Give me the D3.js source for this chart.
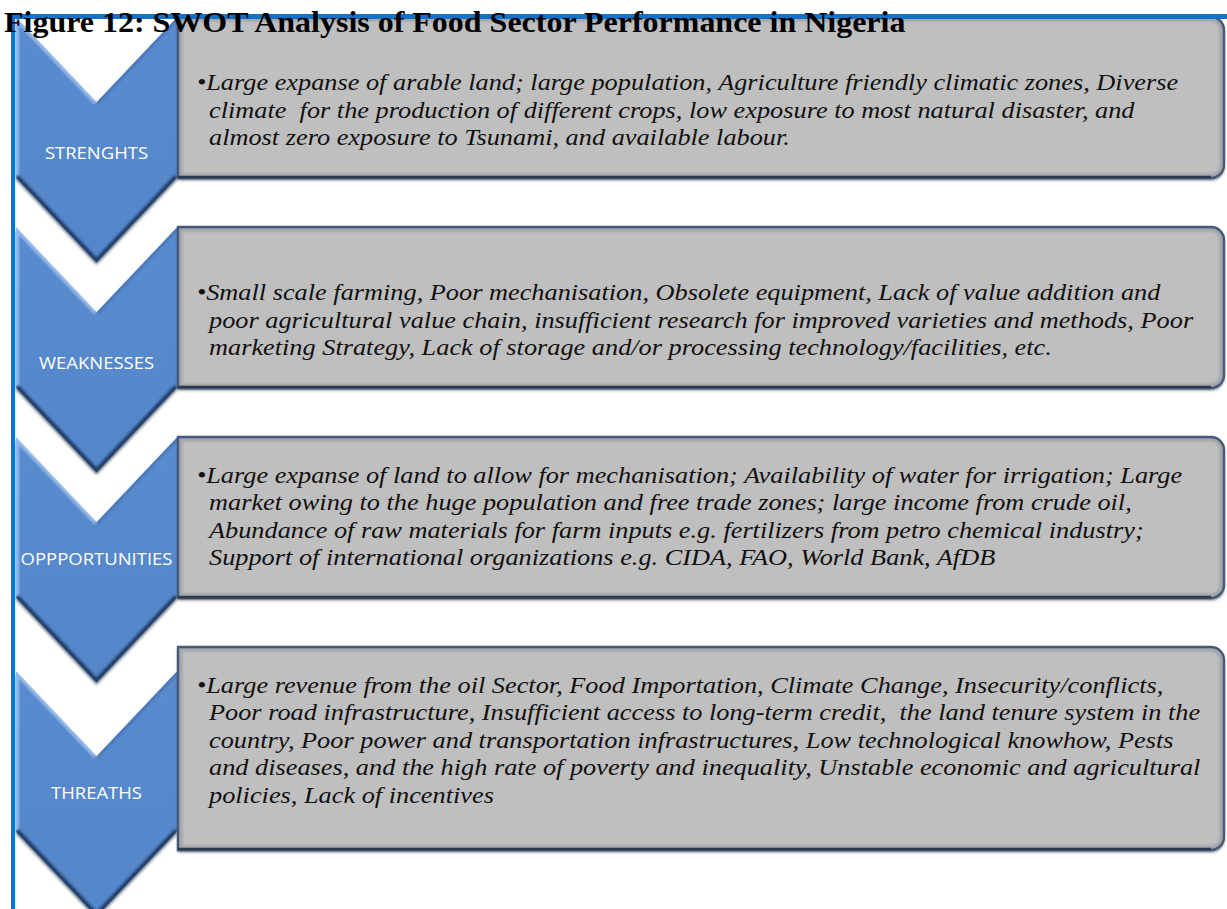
<!DOCTYPE html>
<html>
<head>
<meta charset="utf-8">
<script src="https://cdn.jsdelivr.net/npm/d3@7"></script>
<style>
  body { margin: 0; background: #fff; }
  text { white-space: pre; }
</style>
</head>
<body>
<div id="canvas"></div>
<script>
const w = 1227, h = 909;

const titleText = "Figure 12: SWOT Analysis of Food Sector Performance in Nigeria";
const categories = ["STRENGHTS", "WEAKNESSES", "OPPPORTUNITIES", "THREATHS"];

// first empty string = the blank paragraph at the top of the box
const strengthLines = [
    "",
    "•Large expanse of arable land; large population, Agriculture friendly climatic zones, Diverse",
    "climate  for the production of different crops, low exposure to most natural disaster, and",
    "almost zero exposure to Tsunami, and available labour."
];
const weaknessLines = [
    "",
    "•Small scale farming, Poor mechanisation, Obsolete equipment, Lack of value addition and",
    "poor agricultural value chain, insufficient research for improved varieties and methods, Poor",
    "marketing Strategy, Lack of storage and/or processing technology/facilities, etc."
];
const opportunityLines = [
    "•Large expanse of land to allow for mechanisation; Availability of water for irrigation; Large",
    "market owing to the huge population and free trade zones; large income from crude oil,",
    "Abundance of raw materials for farm inputs e.g. fertilizers from petro chemical industry;",
    "Support of international organizations e.g. CIDA, FAO, World Bank, AfDB"
];
const threatLines = [
    "•Large revenue from the oil Sector, Food Importation, Climate Change, Insecurity/conflicts,",
    "Poor road infrastructure, Insufficient access to long-term credit,  the land tenure system in the",
    "country, Poor power and transportation infrastructures, Low technological knowhow, Pests",
    "and diseases, and the high rate of poverty and inequality, Unstable economic and agricultural",
    "policies, Lack of incentives"
];
const boxLines = [strengthLines, weaknessLines, opportunityLines, threatLines];

let svg = d3.select("#canvas")
            .append("svg")
                .attr("width", w)
                .attr("height", h)
                .attr("viewBox", [0, 0, w, h]);

// layout (the original figure is stretched horizontally, so text gets sx)
const sx = 1.17;
const chevL = 16, chevR = 177, chevH = 160, chevDepth = 85;
const boxL = 178, boxR = 1224, radius = 13;
const lineH = 27.6, gap = 49;
const boxH = (n) => n <= 4 ? 161 : 161 + (n - 4) * 42;

let rows = [];
let yPos = 17;
categories.forEach((c, i) => {
    let bh = boxH(boxLines[i].length);
    rows.push({ label: c, lines: boxLines[i], top: yPos, height: bh, i: i });
    yPos += bh + gap;
});

const mid = (chevL + chevR) / 2;

let defs = svg.append("defs");
let shadow = defs.append("filter").attr("id", "shadow")
    .attr("x", "-5%").attr("y", "-5%").attr("width", "110%").attr("height", "115%");
shadow.append("feDropShadow")
    .attr("dx", 0).attr("dy", 2).attr("stdDeviation", 1.6)
    .attr("flood-color", "#1b2738").attr("flood-opacity", 0.75);
defs.append("filter").attr("id", "soft")
    .append("feGaussianBlur").attr("stdDeviation", 1.3);

let grad = defs.append("linearGradient").attr("id", "chevFill")
    .attr("x1", 0).attr("y1", 0).attr("x2", 0).attr("y2", 1);
grad.append("stop").attr("offset", 0).attr("stop-color", "#5a8bcf");
grad.append("stop").attr("offset", 1).attr("stop-color", "#5586c9");

function chevPath(t) {
    return d3.line()([
        [chevL, t], [mid, t + chevDepth], [chevR, t],
        [chevR, t + chevH], [mid, t + chevH + chevDepth], [chevL, t + chevH]
    ]) + "Z";
}

function boxPath(t, bh) {
    let b = t + bh;
    return `M${boxL},${t}H${boxR - radius}A${radius},${radius} 0 0 1 ${boxR},${t + radius}` +
           `V${b - radius}A${radius},${radius} 0 0 1 ${boxR - radius},${b}H${boxL}Z`;
}

// chevrons
let chev = svg.selectAll("g.chev")
    .data(rows)
    .enter().append("g")
        .attr("class", "chev");

chev.each(function(d) {
    let g = d3.select(this);
    let ct = d.top + d.height / 2 - chevH / 2 + (d.height > 161 ? 3 : 0);
    d.chevTop = ct;
    let p = chevPath(ct);
    defs.append("clipPath").attr("id", "chevClip" + d.i)
        .append("path").attr("d", p);
    g.append("path").attr("d", p)
        .attr("fill", "url(#chevFill)")
        .attr("filter", "url(#shadow)");
    let inner = g.append("g").attr("clip-path", "url(#chevClip" + d.i + ")");
    // light bevel on upper-left and right edges
    inner.append("path")
        .attr("d", d3.line()([[chevL, ct + chevH], [chevL, ct], [mid, ct + chevDepth]]))
        .attr("fill", "none").attr("stroke", "#a8cbf4").attr("stroke-width", 6)
        .attr("opacity", 0.75).attr("filter", "url(#soft)");
    inner.append("path")
        .attr("d", d3.line()([[chevR, ct], [chevR, ct + chevH]]))
        .attr("fill", "none").attr("stroke", "#9cc4f4").attr("stroke-width", 6)
        .attr("opacity", 0.8).attr("filter", "url(#soft)");
    inner.append("path")
        .attr("d", d3.line()([[mid, ct + chevDepth], [chevR, ct]]))
        .attr("fill", "none").attr("stroke", "#3f6aa6").attr("stroke-width", 5)
        .attr("opacity", 0.6).attr("filter", "url(#soft)");
    // dark bevel on lower edges
    inner.append("path")
        .attr("d", d3.line()([[chevL, ct + chevH], [mid, ct + chevH + chevDepth], [chevR, ct + chevH]]))
        .attr("fill", "none").attr("stroke", "#1d3961").attr("stroke-width", 7)
        .attr("opacity", 0.9).attr("filter", "url(#soft)");
});

// label sits lower when the box starts with a blank paragraph
chev.append("text")
    .attr("transform", (d) => `translate(${mid},${d.chevTop + (d.lines[0] === "" ? 141 : 127)}) scale(1.12,1)`)
    .attr("text-anchor", "middle")
    .attr("font-family", "'Open Sans', 'Noto Sans', sans-serif")
    .attr("font-size", 16.5)
    .attr("fill", "#ffffff")
    .text((d) => d.label);

// text boxes
let box = svg.selectAll("g.box")
    .data(rows)
    .enter().append("g")
        .attr("class", "box");

box.each(function(d) {
    let g = d3.select(this);
    let p = boxPath(d.top, d.height);
    defs.append("clipPath").attr("id", "boxClip" + d.i)
        .append("path").attr("d", p);
    g.append("path").attr("d", p)
        .attr("fill", "#bfbfbf")
        .attr("filter", "url(#shadow)");
    g.append("g").attr("clip-path", "url(#boxClip" + d.i + ")")
        .append("path").attr("d", p)
        .attr("fill", "none").attr("stroke", "#7f8690").attr("stroke-width", 9)
        .attr("opacity", 0.45).attr("filter", "url(#soft)");
    g.append("path").attr("d", p)
        .attr("fill", "none").attr("stroke", "#45597a").attr("stroke-width", 2.4);
    // darker lower rim
    g.append("path")
        .attr("d", d3.line()([[boxL, d.top + d.height - 1], [boxR - radius, d.top + d.height - 1]]))
        .attr("stroke", "#2c3a4e").attr("stroke-width", 2.5);
});

box.selectAll("text")
    .data((d) => d.lines.map((s, j) => ({ s: s, y: d.top + 45.5 + j * lineH })))
    .enter().append("text")
        .attr("transform", (d) => `translate(${d.s.startsWith("•") ? 197 : 209},${d.y}) scale(${sx},1)`)
        .attr("font-family", "'Liberation Serif', 'Times New Roman', serif")
        .attr("font-style", "italic")
        .attr("font-size", 22.5)
        .attr("fill", "#111")
        .text((d) => d.s);

// frame
svg.append("rect").attr("x", 11).attr("y", 14).attr("width", w - 11).attr("height", 5).attr("fill", "#1571c5");
svg.append("rect").attr("x", 11).attr("y", 14).attr("width", 4).attr("height", h - 14).attr("fill", "#1571c5");

// title
svg.append("text")
    .attr("transform", "translate(4,32) scale(1.066,1)")
    .attr("font-family", "'Liberation Serif', 'Times New Roman', serif")
    .attr("font-weight", "bold")
    .attr("font-size", 30)
    .attr("fill", "#000")
    .text(titleText);
</script>
</body>
</html>
